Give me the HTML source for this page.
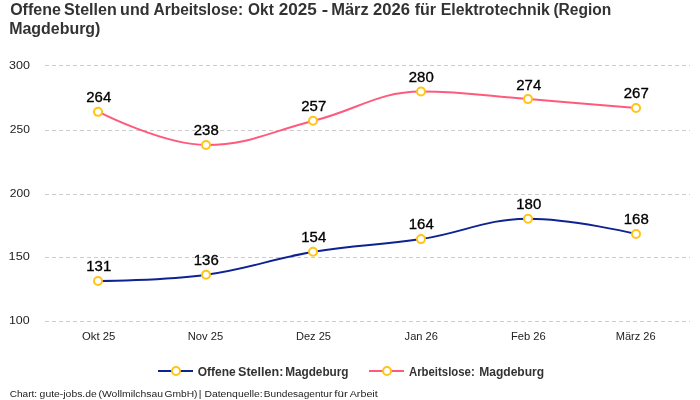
<!DOCTYPE html>
<html><head><meta charset="utf-8">
<style>
html,body{margin:0;padding:0;background:#fff;width:700px;height:400px;overflow:hidden}
svg{display:block;will-change:transform}
text{font-family:"Liberation Sans",sans-serif}
.tt{font-size:16px;font-weight:bold;fill:#333333}
.ax{font-size:11px;fill:#222222}
.dl{font-size:14px;fill:#000;stroke:#000;stroke-width:0.3px}
.lg{font-size:12px;font-weight:bold;fill:#333333}
.cr{font-size:9.5px;fill:#222222}
</style></head><body>
<svg width="700" height="400" viewBox="0 0 700 400">
<rect width="700" height="400" fill="#fff"/>
<text transform="translate(10.15,14.50) scale(1.0014,1)" class="tt">Offene</text>
<text transform="translate(64.09,14.50) scale(1.0033,1)" class="tt">Stellen</text>
<text transform="translate(120.12,14.50) scale(1.0056,1)" class="tt">und</text>
<text transform="translate(153.48,14.50) scale(0.9686,1)" class="tt">Arbeitslose:</text>
<text transform="translate(248.08,14.50) scale(0.9644,1)" class="tt">Okt</text>
<text transform="translate(278.73,14.50) scale(1.0721,1)" class="tt">2025</text>
<text transform="translate(321.70,14.50) scale(1.2065,1)" class="tt">-</text>
<text transform="translate(331.18,14.50) scale(1.0292,1)" class="tt">März</text>
<text transform="translate(373.09,14.50) scale(1.0389,1)" class="tt">2026</text>
<text transform="translate(414.71,14.50) scale(1.0006,1)" class="tt">für</text>
<text transform="translate(440.79,14.50) scale(0.9900,1)" class="tt">Elektrotechnik</text>
<text transform="translate(553.44,14.50) scale(0.9718,1)" class="tt">(Region</text>
<text transform="translate(9.16,33.50) scale(0.9974,1)" class="tt">Magdeburg)</text>
<path d="M 45 65.5 L 690 65.5" stroke="#cccccc" stroke-width="1" stroke-dasharray="4,3" fill="none"/>
<text transform="translate(29.95,68.90) scale(1.1375,1)" text-anchor="end" class="ax">300</text>
<path d="M 45 130.5 L 690 130.5" stroke="#cccccc" stroke-width="1" stroke-dasharray="4,3" fill="none"/>
<text transform="translate(29.87,132.70) scale(1.0956,1)" text-anchor="end" class="ax">250</text>
<path d="M 45 194.5 L 690 194.5" stroke="#cccccc" stroke-width="1" stroke-dasharray="4,3" fill="none"/>
<text transform="translate(29.87,196.50) scale(1.0956,1)" text-anchor="end" class="ax">200</text>
<path d="M 45 257.5 L 690 257.5" stroke="#cccccc" stroke-width="1" stroke-dasharray="4,3" fill="none"/>
<text transform="translate(29.84,260.30) scale(1.1582,1)" text-anchor="end" class="ax">150</text>
<path d="M 45 321.5 L 690 321.5" stroke="#cccccc" stroke-width="1" stroke-dasharray="4,3" fill="none"/>
<text transform="translate(29.68,324.10) scale(1.1286,1)" text-anchor="end" class="ax">100</text>
<text transform="translate(98.66,340.00) scale(1.0320,1)" text-anchor="middle" class="ax">Okt 25</text>
<text transform="translate(205.49,340.00) scale(1.0148,1)" text-anchor="middle" class="ax">Nov 25</text>
<text transform="translate(313.46,340.00) scale(1.0075,1)" text-anchor="middle" class="ax">Dez 25</text>
<text transform="translate(421.24,340.00) scale(1.0108,1)" text-anchor="middle" class="ax">Jan 26</text>
<text transform="translate(528.38,340.00) scale(1.0182,1)" text-anchor="middle" class="ax">Feb 26</text>
<text transform="translate(635.65,340.00) scale(1.0076,1)" text-anchor="middle" class="ax">März 26</text>
<path d="M 98.75 111.84 C 98.75 111.84 163.25 144.93 206.25 144.93 C 249.25 144.93 270.75 131.44 313.75 120.75 C 356.75 110.06 378.25 91.48 421.25 91.48 C 464.25 91.48 485.75 95.81 528.75 99.12 C 571.75 102.42 636.25 108.02 636.25 108.02" fill="none" stroke="#ff5a7c" stroke-width="2" stroke-linecap="round" stroke-linejoin="round"/>
<circle cx="98" cy="111.84" r="4" fill="#fff" stroke="#ffc414" stroke-width="2"/>
<circle cx="206" cy="144.93" r="4" fill="#fff" stroke="#ffc414" stroke-width="2"/>
<circle cx="313" cy="120.75" r="4" fill="#fff" stroke="#ffc414" stroke-width="2"/>
<circle cx="421" cy="91.48" r="4" fill="#fff" stroke="#ffc414" stroke-width="2"/>
<circle cx="528" cy="99.12" r="4" fill="#fff" stroke="#ffc414" stroke-width="2"/>
<circle cx="636" cy="108.02" r="4" fill="#fff" stroke="#ffc414" stroke-width="2"/>
<text transform="translate(98.75,102.24) scale(1.0700,1)" text-anchor="middle" class="dl">264</text>
<text transform="translate(206.25,135.33) scale(1.0700,1)" text-anchor="middle" class="dl">238</text>
<text transform="translate(313.75,111.15) scale(1.0700,1)" text-anchor="middle" class="dl">257</text>
<text transform="translate(421.25,81.88) scale(1.0700,1)" text-anchor="middle" class="dl">280</text>
<text transform="translate(528.75,89.52) scale(1.0700,1)" text-anchor="middle" class="dl">274</text>
<text transform="translate(636.25,98.42) scale(1.0700,1)" text-anchor="middle" class="dl">267</text>
<path d="M 98.75 281.08 C 98.75 281.08 163.25 280.57 206.25 274.72 C 249.25 268.87 270.75 258.94 313.75 251.81 C 356.75 244.69 378.25 245.71 421.25 239.09 C 464.25 232.47 485.75 218.73 528.75 218.73 C 571.75 218.73 636.25 234.00 636.25 234.00" fill="none" stroke="#0e2290" stroke-width="2" stroke-linecap="round" stroke-linejoin="round"/>
<circle cx="98" cy="281.08" r="4" fill="#fff" stroke="#ffc414" stroke-width="2"/>
<circle cx="206" cy="274.72" r="4" fill="#fff" stroke="#ffc414" stroke-width="2"/>
<circle cx="313" cy="251.81" r="4" fill="#fff" stroke="#ffc414" stroke-width="2"/>
<circle cx="421" cy="239.09" r="4" fill="#fff" stroke="#ffc414" stroke-width="2"/>
<circle cx="528" cy="218.73" r="4" fill="#fff" stroke="#ffc414" stroke-width="2"/>
<circle cx="636" cy="234.00" r="4" fill="#fff" stroke="#ffc414" stroke-width="2"/>
<text transform="translate(98.75,271.48) scale(1.0700,1)" text-anchor="middle" class="dl">131</text>
<text transform="translate(206.25,265.12) scale(1.0700,1)" text-anchor="middle" class="dl">136</text>
<text transform="translate(313.75,242.22) scale(1.0700,1)" text-anchor="middle" class="dl">154</text>
<text transform="translate(421.25,229.49) scale(1.0700,1)" text-anchor="middle" class="dl">164</text>
<text transform="translate(528.75,209.13) scale(1.0700,1)" text-anchor="middle" class="dl">180</text>
<text transform="translate(636.25,224.40) scale(1.0700,1)" text-anchor="middle" class="dl">168</text>
<path d="M 158 371 L 193 371" stroke="#0e2290" stroke-width="2" fill="none"/>
<circle cx="176" cy="371" r="4" fill="#fff" stroke="#ffc414" stroke-width="2"/>
<text transform="translate(197.73,375.50) scale(1.0021,1)" class="lg">Offene</text>
<text transform="translate(238.00,375.50) scale(1.0488,1)" class="lg">Stellen:</text>
<text transform="translate(285.13,375.50) scale(0.9817,1)" class="lg">Magdeburg</text>
<path d="M 369 371 L 404 371" stroke="#ff5a7c" stroke-width="2" fill="none"/>
<circle cx="387" cy="371" r="4" fill="#fff" stroke="#ffc414" stroke-width="2"/>
<text transform="translate(408.92,375.50) scale(0.9493,1)" class="lg">Arbeitslose:</text>
<text transform="translate(479.19,375.50) scale(1.0058,1)" class="lg">Magdeburg</text>
<text transform="translate(9.69,396.70) scale(1.0635,1)" class="cr">Chart:</text>
<text transform="translate(39.61,396.70) scale(1.0950,1)" class="cr">gute-jobs.de</text>
<text transform="translate(98.50,396.70) scale(1.0965,1)" class="cr">(Wollmilchsau</text>
<text transform="translate(164.48,396.70) scale(1.0812,1)" class="cr">GmbH)</text>
<text transform="translate(198.87,396.70) scale(1.0928,1)" class="cr">| Datenquelle:</text>
<text transform="translate(263.86,396.70) scale(1.0633,1)" class="cr">Bundesagentur</text>
<text transform="translate(334.36,396.70) scale(1.2235,1)" class="cr">für</text>
<text transform="translate(349.72,396.70) scale(1.1304,1)" class="cr">Arbeit</text>
</svg>
</body></html>
